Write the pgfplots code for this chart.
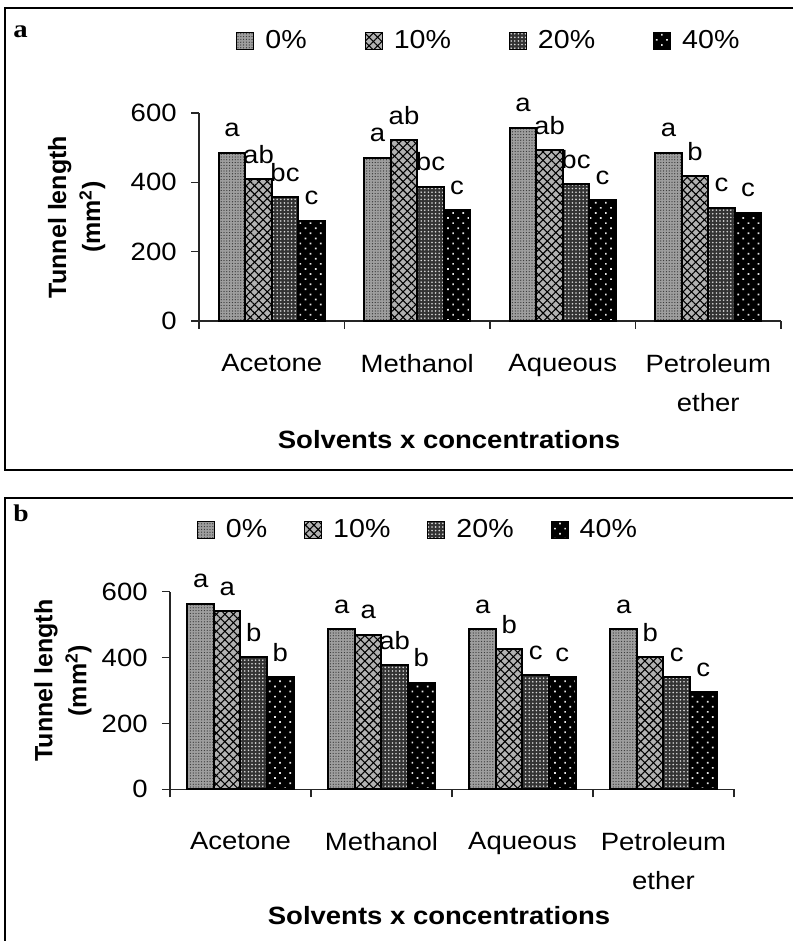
\documentclass[border=0pt]{standalone}
\usepackage{fontspec}
\setmainfont{Liberation Sans}[FakeStretch=1.1]
\newfontfamily\rotfont{Liberation Sans}
\newfontfamily\serifst{Liberation Serif}[FakeStretch=1.15]
\usepackage{pgfplots}
\pgfplotsset{compat=1.18}
\usepackage{pgfplotstable}
\usetikzlibrary{patterns,patterns.meta}

% Panel a
\pgfplotstableread{
x y lab
0.5 485 a
1.5 471 a
2.5 558 a
3.5 486 a
}\aZero
\pgfplotstableread{
x y lab
0.5 409 ab
1.5 522 ab
2.5 493 ab
3.5 418 b
}\aTen
\pgfplotstableread{
x y lab
0.5 357 bc
1.5 387 bc
2.5 395 bc
3.5 327 c
}\aTwenty
\pgfplotstableread{
x y lab
0.5 289 c
1.5 320 c
2.5 349 c
3.5 312 c
}\aForty
% Panel b
\pgfplotstableread{
x y lab
0.5 563 a
1.5 486 a
2.5 486 a
3.5 486 a
}\bZero
\pgfplotstableread{
x y lab
0.5 541 a
1.5 469 a
2.5 425 b
3.5 401 b
}\bTen
\pgfplotstableread{
x y lab
0.5 401 b
1.5 377 ab
2.5 347 c
3.5 341 c
}\bTwenty
\pgfplotstableread{
x y lab
0.5 341 b
1.5 324 b
2.5 341 c
3.5 294 c
}\bForty

\tikzset{
  p0/.style={draw=black, line width=1pt, fill=black!38,
    postaction={pattern={Dots[radius=0.32pt,distance=1.4pt]}, pattern color=black!80}},
  p10/.style={draw=black, line width=1pt, fill=black!30,
    postaction={pattern={Lines[angle=45,distance=3pt,line width=0.55pt]}, pattern color=black},
    postaction={pattern={Lines[angle=-45,distance=3pt,line width=0.55pt]}, pattern color=black}},
  p20/.style={draw=black, line width=1pt, fill=black!80,
    postaction={pattern={Dots[radius=0.45pt,distance=1.8pt]}, pattern color=white!85!black}},
  p40/.style={draw=black, line width=1pt, fill=black,
    postaction={pattern={Dots[radius=0.6pt,distance=3.6pt,angle=45]}, pattern color=white!90!black}},
}

\pgfplotsset{
  mybase/.style={
    scale only axis, anchor=south west,
    xmin=0, xmax=4, ymin=0, ymax=600,
    ytick={0,200,400,600},
    xtick={0,1,2,3,4}, xticklabels={,,,,},
    extra x ticks={0.5,1.5,2.5,3.5},
    extra x tick labels={Acetone,Methanol,Aqueous,{Petroleum\\ether}},
    extra x tick style={major tick length=0pt},
    axis x line*=bottom, axis y line*=left,
    axis line style={black!85, line width=0.6pt, -},
    tick style={black!85, line width=0.6pt},
    major tick length=4pt, tick align=outside,
    /pgf/number format/assume math mode=true,
    tick label style={font=\fontsize{12.5}{19.5}\selectfont},
    yticklabel style={inner sep=0pt, anchor=east, xshift=-7pt},
    clip=false, enlargelimits=false,
    nodes near coords, point meta=explicit symbolic,
    every node near coord/.append style={anchor=base, inner sep=0pt, yshift=8pt,
      font=\fontsize{12.5}{14}\selectfont, text=black},
    legend columns=4,
    legend image code/.code={\draw[##1, line width=0.5pt] (0pt,-4.25pt) rectangle (8.5pt,4.25pt);},
    legend style={draw=none, fill=none, inner sep=0pt, anchor=west,
      font=\fontsize{13}{15}\selectfont, nodes={inner sep=0pt},
      /tikz/every odd column/.append style={column sep=5.5pt}},
    xlabel style={font=\bfseries\fontsize{12.5}{14}\selectfont, anchor=center},
    ylabel style={font=\rotfont\bfseries\fontsize{12.5}{17}\selectfont, align=center, anchor=center},
  }
}

\begin{document}
\begin{tikzpicture}
\useasboundingbox (0,0) rectangle (396.5pt,470.5pt);
% frames
\draw[line width=0.75pt] (396.5pt,466.5pt) -- (2.5pt,466.5pt) -- (2.5pt,235.5pt) -- (396.5pt,235.5pt);
\draw[line width=0.75pt] (396.5pt,221.5pt) -- (2.5pt,221.5pt) -- (2.5pt,0pt);
\node[font=\serifst\bfseries\fontsize{12.5}{15}\selectfont, anchor=base west, inner sep=0pt] at (6.5pt,451.5pt) {a};
\node[font=\serifst\bfseries\fontsize{12}{14}\selectfont, anchor=base west, inner sep=0pt] at (6.5pt,209.5pt) {b};

% Panel a
\begin{axis}[mybase,
  at={(99.5pt,310pt)}, width=291pt, height=104pt,
  bar width=0.182,
  xticklabel style={align=center, anchor=north, inner sep=0pt, yshift=-16.5pt},
  legend style={at={(0.0636,1.346)},
    /tikz/every even column/.append style={column sep=29pt}},
  xlabel={Solvents x concentrations},
  xlabel style={at={(axis description cs:0.4296,-0.572)}},
  ylabel={Tunnel length\\(mm\textsuperscript{2})},
  ylabel style={at={(axis description cs:-0.210,0.5)}},
]
\addplot[ybar, bar shift=0, p0] table[x expr=\thisrow{x}-0.273,y=y,meta=lab]{\aZero};
\addplot[ybar, bar shift=0, p10] table[x expr=\thisrow{x}-0.091,y=y,meta=lab]{\aTen};
\addplot[ybar, bar shift=0, p20] table[x expr=\thisrow{x}+0.091,y=y,meta=lab]{\aTwenty};
\addplot[ybar, bar shift=0, p40] table[x expr=\thisrow{x}+0.273,y=y,meta=lab]{\aForty};
\legend{0\%,10\%,20\%,40\%}
\end{axis}

% Panel b
\begin{axis}[mybase,
  at={(85pt,75.85pt)}, width=282pt, height=98.8pt,
  bar width=0.188,
  xticklabel style={align=center, anchor=north, inner sep=0pt, yshift=-21.5pt},
  legend style={at={(0.047,1.312)},
    /tikz/every even column/.append style={column sep=18.5pt}},
  xlabel={Solvents x concentrations},
  xlabel style={at={(axis description cs:0.477,-0.641)}},
  ylabel={Tunnel length\\(mm\textsuperscript{2})},
  ylabel style={at={(axis description cs:-0.190,0.55)}},
]
\addplot[ybar, bar shift=0, p0] table[x expr=\thisrow{x}-0.282,y=y,meta=lab]{\bZero};
\addplot[ybar, bar shift=0, p10] table[x expr=\thisrow{x}-0.094,y=y,meta=lab]{\bTen};
\addplot[ybar, bar shift=0, p20] table[x expr=\thisrow{x}+0.094,y=y,meta=lab]{\bTwenty};
\addplot[ybar, bar shift=0, p40] table[x expr=\thisrow{x}+0.282,y=y,meta=lab]{\bForty};
\legend{0\%,10\%,20\%,40\%}
\end{axis}
\end{tikzpicture}
\end{document}
